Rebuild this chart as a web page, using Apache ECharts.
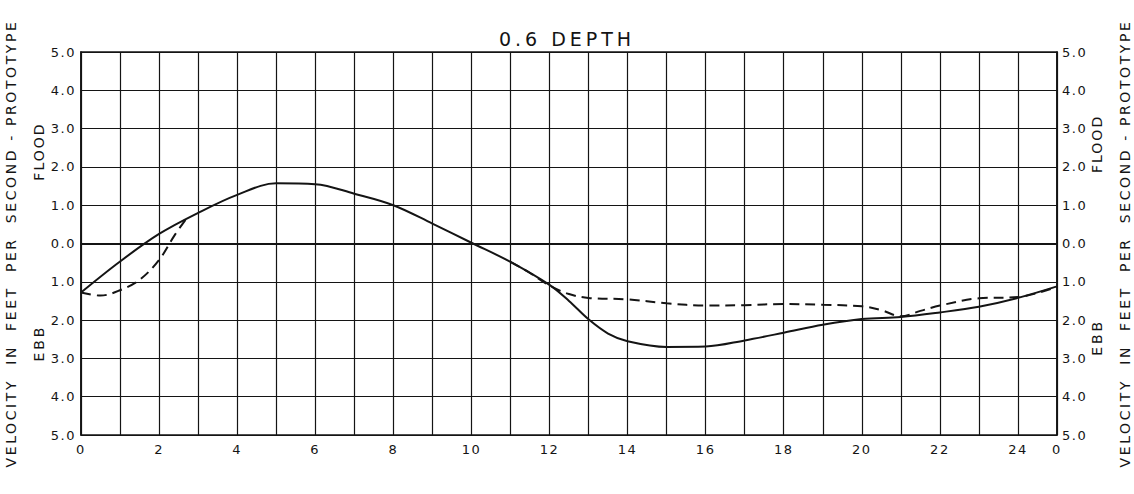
<!DOCTYPE html>
<html>
<head>
<meta charset="utf-8">
<title>0.6 DEPTH</title>
<script src="https://cdn.jsdelivr.net/npm/echarts@6/dist/echarts.min.js"></script>
<style>
  html, body { margin: 0; padding: 0; background: #fff; }
  #chart { width: 1134px; height: 494px; }
</style>
</head>
<body>
<div id="chart"></div>
<script>
// Tidal velocity over a 25-hour cycle at 0.6 depth.
// Positive values are flood, negative values are ebb.

const titleText = '0.6 DEPTH';
const axisTitle = 'VELOCITY  IN  FEET  PER  SECOND - PROTOTYPE';

// hour tick labels, one per grid line (0 .. 25)
const hourLabels = ['0', '', '2', '', '4', '', '6', '', '8', '', '10', '', '12', '',
  '14', '', '16', '', '18', '', '20', '', '22', '', '24', '0'];
// velocity tick labels from -5 (ebb) to +5 (flood)
const velocityLabels = ['5.0', '4.0', '3.0', '2.0', '1.0', '0.0', '1.0', '2.0', '3.0', '4.0', '5.0'];

// solid curve
const solidHours = [0, 1, 2, 3, 4, 5, 6, 7, 8, 9, 10, 11, 12, 12.5, 13, 13.5, 14, 15, 16, 17, 18, 19, 20, 21, 22, 23, 24, 25];
const solidVelocity = [-1.28, -0.47, 0.25, 0.80, 1.27, 1.57, 1.55, 1.30, 1.00, 0.52, 0.02, -0.48, -1.08, -1.50, -1.98, -2.35, -2.55, -2.70, -2.69, -2.53, -2.33, -2.12, -1.97, -1.92, -1.80, -1.65, -1.42, -1.12];

// dashed curve (follows the solid curve between about 2.75 h and 11 h)
const dashedHours = [0, 0.5, 1, 1.5, 2, 2.4, 2.75, 6, 11, 11.5, 12, 12.5, 13, 14, 15, 16, 17, 18, 19, 20, 20.5, 21, 21.5, 22, 23, 24, 25];
const dashedVelocity = [-1.28, -1.36, -1.22, -0.95, -0.43, 0.22, 0.72, null, -0.48, -0.77, -1.10, -1.32, -1.42, -1.46, -1.56, -1.62, -1.61, -1.58, -1.60, -1.64, -1.74, -1.90, -1.76, -1.62, -1.43, -1.40, -1.13];

const pairs = (xs, ys) => xs.map((x, i) => [x, ys[i]]);

const ink = '#141414';
const font = 'DejaVu Sans';

const chart = echarts.init(document.getElementById('chart'), null, { renderer: 'svg' });

const yAxisBase = {
  type: 'value',
  min: -5,
  max: 5,
  interval: 1,
  axisLine: { show: true, lineStyle: { color: ink, width: 1.6 } },
  axisTick: { show: false },
  axisLabel: {
    color: ink,
    fontFamily: font,
    fontSize: 13,
    margin: 5,
    formatter: v => velocityLabels[Math.round(v) + 5]
  },
  name: axisTitle,
  nameLocation: 'middle',
  nameRotate: 90,
  nameTextStyle: { color: ink, fontFamily: font, fontSize: 14 }
};

chart.setOption({
  animation: false,
  backgroundColor: '#ffffff',
  title: {
    text: titleText,
    left: 'center',
    top: 24,
    textStyle: { color: ink, fontFamily: font, fontSize: 19, fontWeight: 'normal' }
  },
  grid: {
    left: 81, right: 77, top: 52, bottom: 59,
    outerBoundsMode: 'none',
    show: true, borderColor: ink, borderWidth: 1.6
  },
  xAxis: {
    type: 'value',
    min: 0,
    max: 25,
    interval: 1,
    axisLine: { show: true, lineStyle: { color: ink, width: 1.6 } },
    axisTick: { show: false },
    axisLabel: {
      color: ink,
      fontFamily: font,
      fontSize: 13,
      margin: 8,
      showMaxLabel: true,
      formatter: v => hourLabels[Math.round(v)]
    },
    splitLine: { show: true, lineStyle: { color: ink, width: 1.2 } }
  },
  yAxis: [
    Object.assign({}, yAxisBase, {
      position: 'left',
      nameGap: 63,
      splitLine: { show: true, lineStyle: { color: ink, width: 1.2 } }
    }),
    Object.assign({}, yAxisBase, {
      position: 'right',
      nameGap: 61,
      splitLine: { show: false }
    })
  ],
  series: [
    {
      name: 'solid',
      type: 'line',
      data: pairs(solidHours, solidVelocity),
      smooth: 0.35,
      showSymbol: false,
      lineStyle: { color: ink, width: 2 },
      markLine: {
        silent: true,
        symbol: 'none',
        label: { show: false },
        lineStyle: { color: ink, width: 2, type: 'solid' },
        data: [{ yAxis: 0 }]
      },
      z: 3
    },
    {
      name: 'dashed',
      type: 'line',
      data: pairs(dashedHours, dashedVelocity),
      connectNulls: false,
      smooth: 0.35,
      showSymbol: false,
      lineStyle: { color: ink, width: 2, type: [10, 6] },
      z: 4
    }
  ]
});

// FLOOD / EBB captions beside both velocity scales
function sideCaption(text, xPix, value) {
  return {
    type: 'text',
    x: xPix,
    y: chart.convertToPixel({ yAxisIndex: 0 }, value),
    rotation: Math.PI / 2,
    style: {
      text: text,
      fill: ink,
      font: '14px "' + font + '"',
      align: 'center',
      verticalAlign: 'middle'
    }
  };
}
const leftX = chart.convertToPixel({ xAxisIndex: 0 }, 0) - 42;
const rightX = chart.convertToPixel({ xAxisIndex: 0 }, 25) + 40;
chart.setOption({
  graphic: [
    sideCaption('FLOOD', leftX, 2.4),
    sideCaption('EBB', leftX, -2.6),
    sideCaption('FLOOD', rightX, 2.6),
    sideCaption('EBB', rightX, -2.45)
  ]
});

// wide lettering for the stencilled captions and scale figures
const letterSpacing = {};
letterSpacing[titleText] = '4px';
letterSpacing[axisTitle] = '2.6px';
letterSpacing['FLOOD'] = '2px';
letterSpacing['EBB'] = '3px';
function spaceLetters() {
  document.querySelectorAll('#chart text').forEach(t => {
    const s = t.textContent;
    t.setAttribute('letter-spacing', letterSpacing[s] || '1.5px');
  });
}
chart.on('finished', spaceLetters);
spaceLetters();
</script>
</body>
</html>
